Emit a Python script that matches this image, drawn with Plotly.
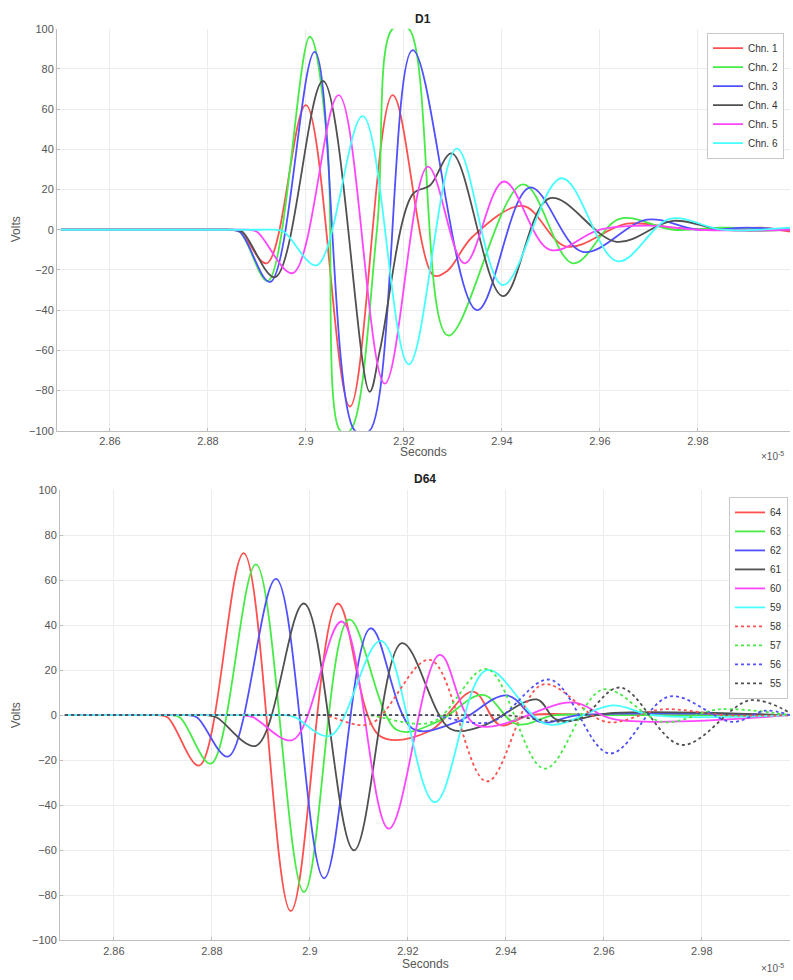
import plotly.graph_objects as go

# ---------------- data (time in units of 1e-5 s, volts) ----------------
top_names = ["Chn. 1", "Chn. 2", "Chn. 3", "Chn. 4", "Chn. 5", "Chn. 6"]
top_colors = ["rgb(255,80,80)", "rgb(70,235,70)", "rgb(80,80,255)",
              "rgb(80,80,80)", "rgb(255,70,255)", "rgb(70,255,255)"]

ch1_t = [2.85, 2.881, 2.884, 2.8865, 2.892, 2.9, 2.909, 2.9177, 2.926, 2.9288, 2.934, 2.9443, 2.9532, 2.9655, 2.975, 2.985, 2.993, 2.9988]
ch1_v = [0, 0, 0, -1, -16.7, 62, -88, 67, -22.6, -20.6, -3.5, 11.8, -8.4, 3, 1, 0, 1, -1]

ch2_t = [2.85, 2.881, 2.884, 2.8865, 2.8922, 2.9008, 2.9043, 2.907, 2.909, 2.9145, 2.9177, 2.921, 2.929, 2.9443, 2.9545, 2.964, 2.975, 2.985, 2.9988]
ch2_v = [0, 0, 0, -1, -25.5, 96, 46, -100, -100, 0, 100, 100, -52.6, 22.6, -16.7, 5.4, 0, 1, 0]

ch3_t = [2.85, 2.881, 2.884, 2.8865, 2.8927, 2.9018, 2.91, 2.913, 2.9218, 2.9349, 2.9457, 2.9565, 2.9696, 2.98, 2.99, 2.9988]
ch3_v = [0, 0, 0, -1, -26, 88.5, -100, -100, 89.4, -40, 21, -11, 5, 0, 1, 0]

ch4_t = [2.85, 2.882, 2.885, 2.887, 2.8937, 2.9035, 2.913, 2.9151, 2.9218, 2.9253, 2.9298, 2.9402, 2.9498, 2.9634, 2.9749, 2.985, 2.9988]
ch4_v = [0, 0, 0, -1, -23.6, 74, -80.6, -60, 17.7, 22, 38, -33, 15.7, -6, 4.4, 0, 0]

ch5_t = [2.85, 2.885, 2.888, 2.89, 2.8973, 2.9067, 2.9161, 2.9249, 2.9324, 2.9404, 2.9498, 2.96, 2.97, 2.98, 2.9988]
ch5_v = [0, 0, 0, -1, -21.6, 67, -76.6, 31.4, -16.7, 24, -10, 0, 2, 0, 0]

ch6_t = [2.85, 2.8905, 2.8935, 2.8955, 2.9022, 2.9116, 2.921, 2.9308, 2.9402, 2.9522, 2.9636, 2.9743, 2.985, 2.9988]
ch6_v = [0, 0, 0, -1, -17.7, 56.5, -67, 40.3, -27.5, 25.6, -15.7, 5.4, 0, 1]

bot_names = ["64", "63", "62", "61", "60", "59", "58", "57", "56", "55"]
bot_colors = ["rgb(255,80,80)", "rgb(70,235,70)", "rgb(80,80,255)", "rgb(80,80,80)",
              "rgb(255,70,255)", "rgb(70,255,255)",
              "rgb(255,80,80)", "rgb(70,235,70)", "rgb(80,80,255)", "rgb(80,80,80)"]
bot_dash = ["solid"] * 6 + ["dot"] * 4

d64_t = [2.85, 2.866, 2.869, 2.871, 2.8774, 2.8865, 2.8961, 2.9057, 2.9143, 2.9245, 2.9333, 2.9388, 2.945, 2.96, 2.98, 2.998]
d64_v = [0, 0, 0, -1, -22.4, 72, -87, 49.6, -9.2, -7, 10.5, -4.4, 0, 0, 0, 0]

d63_t = [2.85, 2.8685, 2.8715, 2.8735, 2.8798, 2.889, 2.8988, 2.908, 2.9178, 2.926, 2.9353, 2.9422, 2.95, 2.96, 2.998]
d63_v = [0, 0, 0, -1, -21.5, 67, -78.5, 42.5, -6.6, -3, 9, -4, 0, 0, 0]

d62_t = [2.85, 2.872, 2.875, 2.877, 2.8833, 2.8931, 2.9029, 2.9124, 2.921, 2.93, 2.9402, 2.947, 2.955, 2.998]
d62_v = [0, 0, 0, -1, -18.4, 60.5, -72.4, 38.6, -6, -3, 8.8, -3, 0, 0]

d61_t = [2.85, 2.876, 2.879, 2.881, 2.889, 2.8988, 2.909, 2.9188, 2.9286, 2.935, 2.9463, 2.9504, 2.962, 2.998]
d61_v = [0, 0, 0, -1, -13.6, 49.6, -60, 32, -6, -5, 7, -2, 1, 0]

d60_t = [2.85, 2.8835, 2.8865, 2.8885, 2.8965, 2.9065, 2.9161, 2.9265, 2.934, 2.9537, 2.962, 2.998]
d60_v = [0, 0, 0, -1, -11, 41.6, -50.4, 26.8, -4.4, 5.7, -1.7, 0]

d59_t = [2.85, 2.892, 2.895, 2.897, 2.9041, 2.9145, 2.9255, 2.9361, 2.9484, 2.9618, 2.97, 2.998]
d59_v = [0, 0, 0, -1, -9.2, 33, -38.6, 20, -4, 4.4, 0, 0]

d58_t = [2.85, 2.9, 2.903, 2.9122, 2.9245, 2.9361, 2.9475, 2.9606, 2.972, 2.985, 2.998]
d58_v = [0, 0, 0, -4, 24.6, -29.4, 13.6, -3, 2.6, 0, 0]

d57_t = [2.85, 2.909, 2.912, 2.925, 2.9361, 2.9479, 2.9598, 2.972, 2.9836, 2.998]
d57_v = [0, 0, 0, -3, 20.5, -23.7, 11.4, -3, 2.6, 0]

d56_t = [2.85, 2.922, 2.925, 2.937, 2.949, 2.9612, 2.9734, 2.9863, 2.993, 2.998]
d56_v = [0, 0, 0, -3, 15.8, -17, 8.3, -3, 2, 0]

d55_t = [2.85, 2.937, 2.94, 2.9545, 2.9633, 2.9759, 2.9898, 2.998]
d55_v = [0, 0, 0, -2, 12.3, -13.2, 6.6, 1]

x_tickvals = [2.86, 2.88, 2.90, 2.92, 2.94, 2.96, 2.98]
x_ticktext = ["2.86", "2.88", "2.9", "2.92", "2.94", "2.96", "2.98"]
y_tickvals = [-100, -80, -60, -40, -20, 0, 20, 40, 60, 80, 100]

top_series = [(ch1_t, ch1_v), (ch2_t, ch2_v), (ch3_t, ch3_v),
              (ch4_t, ch4_v), (ch5_t, ch5_v), (ch6_t, ch6_v)]
bot_series = [(d64_t, d64_v), (d63_t, d63_v), (d62_t, d62_v), (d61_t, d61_v),
              (d60_t, d60_v), (d59_t, d59_v), (d58_t, d58_v), (d57_t, d57_v),
              (d56_t, d56_v), (d55_t, d55_v)]

# ---------------- figure ----------------
W, H = 793, 980
fig = go.Figure()
FONT = "Liberation Sans, Arial, sans-serif"

for (t, v), name, col in zip(top_series, top_names, top_colors):
    fig.add_trace(go.Scatter(x=t, y=v, mode="lines", name=name,
                             line=dict(color=col, width=1.8, shape="spline", smoothing=1.0),
                             xaxis="x", yaxis="y", legend="legend"))

for (t, v), name, col, dash in zip(bot_series, bot_names, bot_colors, bot_dash):
    fig.add_trace(go.Scatter(x=t, y=v, mode="lines", name=name,
                             line=dict(color=col, width=1.8, dash=dash, shape="spline", smoothing=1.0),
                             xaxis="x2", yaxis="y2", legend="legend2"))

tickfont = dict(family=FONT, size=11, color="#555555")
axis_common = dict(showgrid=True, gridcolor="#ececec", gridwidth=1,
                   showline=True, linecolor="#bdbdbd", linewidth=1,
                   ticks="inside", ticklen=3, tickcolor="#bdbdbd",
                   tickfont=tickfont, zeroline=False, mirror=False)

leg_font = dict(family=FONT, size=10, color="#333333")
fig.update_layout(
    width=W, height=H, margin=dict(l=0, r=0, t=0, b=0),
    paper_bgcolor="white", plot_bgcolor="white",
    xaxis=dict(domain=[57 / W, 790 / W], range=[2.8492, 2.9988],
               tickvals=x_tickvals, ticktext=x_ticktext, anchor="y", **axis_common),
    yaxis=dict(domain=[1 - 430 / H, 1 - 23 / H], range=[-100, 100],
               tickvals=y_tickvals, anchor="x", **axis_common),
    xaxis2=dict(domain=[60 / W, 790 / W], range=[2.8490, 2.9980],
                tickvals=x_tickvals, ticktext=x_ticktext, anchor="y2", **axis_common),
    yaxis2=dict(domain=[1 - 946 / H, 1 - 490 / H], range=[-100, 100],
                tickvals=y_tickvals, anchor="x2", **axis_common),
    legend=dict(x=784 / W, y=1 - 27 / H, xanchor="right", yanchor="top",
                bgcolor="white", bordercolor="#c8c8c8", borderwidth=1,
                font=leg_font, itemwidth=30, tracegroupgap=0),
    legend2=dict(x=788 / W, y=1 - 497 / H, xanchor="right", yanchor="top",
                 bgcolor="white", bordercolor="#c8c8c8", borderwidth=1,
                 font=leg_font, itemwidth=30, tracegroupgap=0),
    showlegend=True,
)

lab_font = dict(family=FONT, size=12, color="#555555")
title_font = dict(family=FONT, size=12, color="#222222")
small_font = dict(family=FONT, size=10, color="#555555")
ann = [
    dict(text="<b>D1</b>", x=423 / W, y=1 - 13 / H, font=title_font),
    dict(text="<b>D64</b>", x=425 / W, y=1 - 479 / H, font=title_font),
    dict(text="Seconds", x=423 / W, y=1 - 452 / H, font=lab_font),
    dict(text="Seconds", x=425 / W, y=1 - 970 / H, font=lab_font),
    dict(text="Volts", x=16 / W, y=1 - 226 / H, font=lab_font, textangle=-90),
    dict(text="Volts", x=16 / W, y=1 - 718 / H, font=lab_font, textangle=-90),
    dict(text="×10<sup>-5</sup>", x=772 / W, y=1 - 456 / H, font=small_font),
    dict(text="×10<sup>-5</sup>", x=772 / W, y=1 - 974 / H, font=small_font),
]
for a in ann:
    a.update(xref="paper", yref="paper", showarrow=False, xanchor="center", yanchor="middle")
    fig.add_annotation(**a)

fig.write_html("out.html")
